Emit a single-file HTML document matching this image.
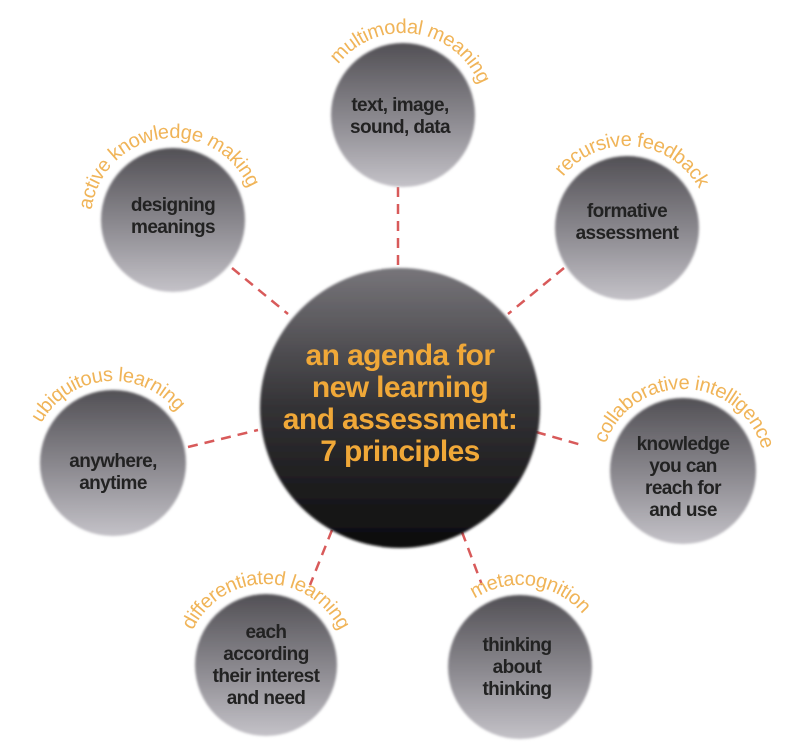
<!DOCTYPE html>
<html><head><meta charset="utf-8"><style>
html,body{margin:0;padding:0;background:#fff;}
svg{display:block;}
.lbl{font-family:"Liberation Sans",sans-serif;font-size:20px;letter-spacing:-0.4px;fill:#f0b458;}
.in{font-family:"Liberation Sans",sans-serif;font-size:19px;letter-spacing:-0.6px;font-weight:bold;fill:#222;text-anchor:middle;}
.ctr{font-family:"Liberation Sans",sans-serif;font-size:30px;letter-spacing:-0.6px;font-weight:bold;fill:#f0a838;text-anchor:middle;}
</style></head><body>
<svg width="800" height="748" viewBox="0 0 800 748" xmlns="http://www.w3.org/2000/svg">
<defs>
<linearGradient id="g" x1="0" y1="0" x2="0" y2="1">
<stop offset="0" stop-color="#525055"/><stop offset="0.55" stop-color="#8e8c92"/><stop offset="1" stop-color="#c4c2c8"/>
</linearGradient>
<linearGradient id="gc" x1="0" y1="0" x2="0" y2="1">
<stop offset="0" stop-color="#77757a"/><stop offset="0.5" stop-color="#333235"/><stop offset="1" stop-color="#0c0c0d"/>
</linearGradient>
<filter id="b"><feGaussianBlur stdDeviation="1.2"/></filter>
<path id="p1" d="M403,197 A82,82 0 1 1 403,33 A82,82 0 1 1 403,197"/>
<path id="p2" d="M173,302 A82,82 0 1 1 173,138 A82,82 0 1 1 173,302"/>
<path id="p3" d="M627,310 A82,82 0 1 1 627,146 A82,82 0 1 1 627,310"/>
<path id="p4" d="M113,545 A82,82 0 1 1 113,381 A82,82 0 1 1 113,545"/>
<path id="p5" d="M683,553 A82,82 0 1 1 683,389 A82,82 0 1 1 683,553"/>
<path id="p6" d="M266,746 A81,81 0 1 1 266,584 A81,81 0 1 1 266,746"/>
<path id="p7" d="M520,749 A82,82 0 1 1 520,585 A82,82 0 1 1 520,749"/>
</defs>
<g stroke="#d85a5a" stroke-width="2.5" stroke-dasharray="10,7" fill="none">
<line x1="398" y1="187" x2="398" y2="268"/>
<line x1="232" y1="268" x2="288" y2="314"/>
<line x1="564" y1="268" x2="508" y2="314"/>
<line x1="188" y1="447" x2="258" y2="430"/>
<line x1="536" y1="432" x2="585" y2="446"/>
<line x1="332" y1="530" x2="310" y2="585"/>
<line x1="462" y1="532" x2="482" y2="585"/>
</g>
<g filter="url(#b)">
<circle cx="403" cy="115" r="72" fill="url(#g)"/>
<circle cx="173" cy="220" r="72" fill="url(#g)"/>
<circle cx="627" cy="228" r="72" fill="url(#g)"/>
<circle cx="113" cy="463" r="73" fill="url(#g)"/>
<circle cx="683" cy="471" r="73" fill="url(#g)"/>
<circle cx="266" cy="665" r="71" fill="url(#g)"/>
<circle cx="520" cy="667" r="72" fill="url(#g)"/>
<circle cx="400" cy="408" r="140" fill="url(#gc)"/>
</g>
<g class="lbl" text-anchor="middle">
<text transform="rotate(8 403 115)"><textPath href="#p1" startOffset="50%">multimodal meaning</textPath></text>
<text transform="rotate(-8 173 220)"><textPath href="#p2" startOffset="50%">active knowledge making</textPath></text>
<text transform="rotate(5 627 228)"><textPath href="#p3" startOffset="50%">recursive feedback</textPath></text>
<text transform="rotate(-5 113 463)"><textPath href="#p4" startOffset="50%">ubiquitous learning</textPath></text>
<text transform="rotate(2 683 471)"><textPath href="#p5" startOffset="50%">collaborative intelligence</textPath></text>
<text transform="rotate(0 266 665)"><textPath href="#p6" startOffset="50%">differentiated learning</textPath></text>
<text transform="rotate(8 520 667)"><textPath href="#p7" startOffset="50%">metacognition</textPath></text>
</g>
<text class="in" x="400" y="111">text, image,</text>
<text class="in" x="400" y="133">sound, data</text>
<text class="in" x="173" y="211">designing</text>
<text class="in" x="173" y="233">meanings</text>
<text class="in" x="627" y="217">formative</text>
<text class="in" x="627" y="239">assessment</text>
<text class="in" x="113" y="467">anywhere,</text>
<text class="in" x="113" y="489">anytime</text>
<text class="in" x="683" y="450">knowledge</text>
<text class="in" x="683" y="472">you can</text>
<text class="in" x="683" y="494">reach for</text>
<text class="in" x="683" y="516">and use</text>
<text class="in" x="266" y="638">each</text>
<text class="in" x="266" y="660">according</text>
<text class="in" x="266" y="682">their interest</text>
<text class="in" x="266" y="704">and need</text>
<text class="in" x="517" y="651">thinking</text>
<text class="in" x="517" y="673">about</text>
<text class="in" x="517" y="695">thinking</text>
<text class="ctr" x="400" y="365">an agenda for</text>
<text class="ctr" x="400" y="397">new learning</text>
<text class="ctr" x="400" y="429">and assessment:</text>
<text class="ctr" x="400" y="461">7 principles</text>
</svg>
</body></html>
